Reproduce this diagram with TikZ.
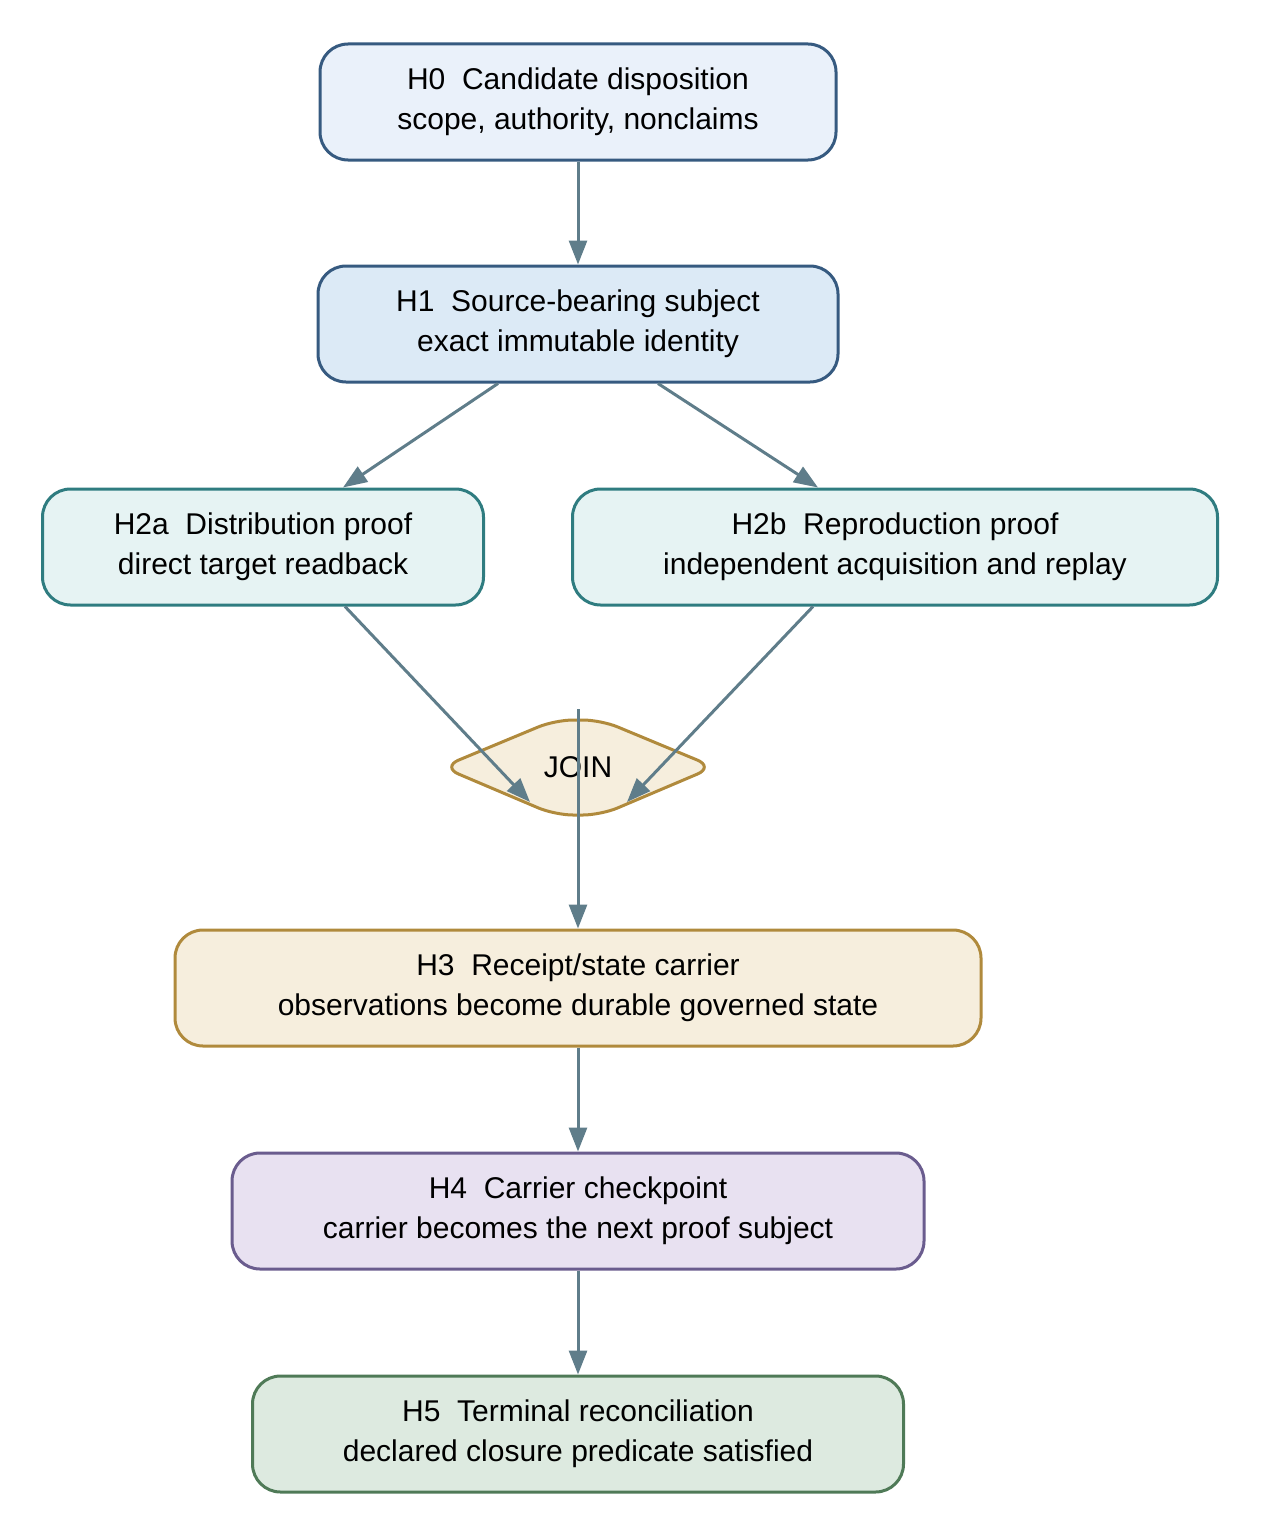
\documentclass[tikz,border=0pt]{standalone}
\usepackage{fontspec}
\setmainfont{Liberation Sans}
\usetikzlibrary{arrows.meta}
\definecolor{arr}{HTML}{5F7D8A}
\definecolor{bA}{HTML}{365A80}\definecolor{fA}{HTML}{EAF1FA}\definecolor{fB}{HTML}{DCEAF6}
\definecolor{bC}{HTML}{2F7C80}\definecolor{fC}{HTML}{E6F3F3}
\definecolor{bD}{HTML}{B08A3C}\definecolor{fD}{HTML}{F6EEDD}
\definecolor{bE}{HTML}{6A5C8E}\definecolor{fE}{HTML}{E8E1F1}
\definecolor{bF}{HTML}{4F7A57}\definecolor{fF}{HTML}{DDEAE0}
\begin{document}
\begin{tikzpicture}[x=1pt,y=-1pt,
 box/.style={draw,line width=3pt,rounded corners=28pt,minimum height=116pt,align=center,
   font=\fontsize{30}{40}\selectfont,inner sep=0pt},
 conn/.style={draw=arr,line width=3pt,-{Triangle[length=24pt,width=18pt]}}]
\useasboundingbox (0,0) rectangle (1263,1536);
\node[box,draw=bA,fill=fA,minimum width=516pt] (h0) at (578,102) {H0\ \ Candidate disposition\\scope, authority, nonclaims};
\node[box,draw=bA,fill=fB,minimum width=520pt] (h1) at (578,324) {H1\ \ Source-bearing subject\\exact immutable identity};
\node[box,draw=bC,fill=fC,minimum width=441pt] (h2a) at (263,547) {H2a\ \ Distribution proof\\direct target readback};
\node[box,draw=bC,fill=fC,minimum width=645pt] (h2b) at (895,547) {H2b\ \ Reproduction proof\\independent acquisition and replay};
\coordinate (j) at (578,767);
\draw[draw=bD,fill=fD,line width=3pt,rounded corners=18pt] (442,767) -- (555,720) -- (601,720) -- (714,767) -- (601,815) -- (555,815) -- cycle;
\node[font=\fontsize{30}{40}\selectfont] (join) at (578,767) {JOIN};
\node[box,draw=bD,fill=fD,minimum width=806pt] (h3) at (578,988) {H3\ \ Receipt/state carrier\\observations become durable governed state};
\node[box,draw=bE,fill=fE,minimum width=692pt] (h4) at (578,1211) {H4\ \ Carrier checkpoint\\carrier becomes the next proof subject};
\node[box,draw=bF,fill=fF,minimum width=651pt] (h5) at (578,1434) {H5\ \ Terminal reconciliation\\declared closure predicate satisfied};
\draw[conn] (h0.south) -- (h1.north);
\draw[conn] ([xshift=-80pt]h1.south) -- ([xshift=80pt]h2a.north);
\draw[conn] ([xshift=80pt]h1.south) -- ([xshift=-77pt]h2b.north);
\draw[conn] ([xshift=82pt]h2a.south) -- ([shift={(-48pt,-35pt)}]join.center);
\draw[conn] ([xshift=-82pt]h2b.south) -- ([shift={(49pt,-35pt)}]join.center);
\draw[conn] ([yshift=58pt]join.center) -- (h3.north);
\draw[conn] (h3.south) -- (h4.north);
\draw[conn] (h4.south) -- (h5.north);
\end{tikzpicture}
\end{document}
